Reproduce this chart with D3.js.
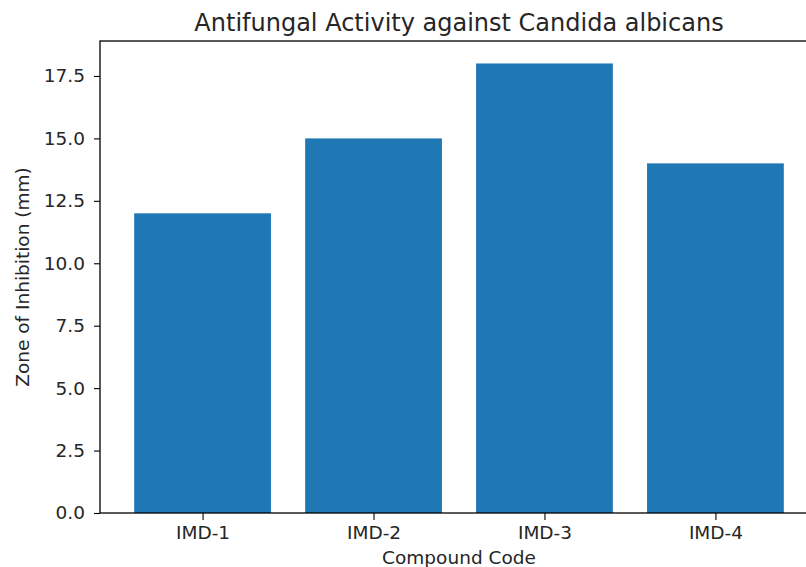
<!DOCTYPE html>
<html><head><meta charset="utf-8">
<script src="https://cdn.jsdelivr.net/npm/d3@7"></script>
<style>body{margin:0;background:#fff}svg{display:block}text{font-family:"DejaVu Sans",sans-serif;fill:#262626}</style>
</head><body><svg id="c" width="806" height="567"></svg>
<script>
const categories = ["IMD-1","IMD-2","IMD-3","IMD-4"];
const values = [12, 15, 18, 14];
const yTicks = [0, 2.5, 5, 7.5, 10, 12.5, 15, 17.5];
const title = "Antifungal Activity against Candida albicans";
const xLabel = "Compound Code";
const yLabel = "Zone of Inhibition (mm)";

const svg = d3.select("#c");
const L = 100, R = 818, T = 41, B = 513;
const x = d3.scaleLinear().domain([-0.6, 3.6]).range([L, R]);
const y = d3.scaleLinear().domain([0, 18.9]).range([B, T]);

svg.append("g").selectAll("rect").data(values).join("rect")
  .attr("x", (d,i) => x(i - 0.4)).attr("width", (d,i) => x(i + 0.4) - x(i - 0.4))
  .attr("y", d => y(d)).attr("height", d => y(0) - y(d))
  .attr("fill", "#1f77b4");

const fs = 18.5;
const xa = svg.append("g").attr("transform", `translate(0,${B})`)
  .call(d3.axisBottom(x).tickValues(d3.range(categories.length)).tickFormat(i => categories[i]).tickSize(7).tickPadding(6));
const ya = svg.append("g").attr("transform", `translate(${L},0)`)
  .call(d3.axisLeft(y).tickValues(yTicks).tickFormat(d3.format(".1f")).tickSize(6).tickPadding(9));
[xa, ya].forEach(a => {
  a.select(".domain").remove();
  a.selectAll(".tick line").attr("stroke", "#000").attr("stroke-width", 1.1);
  a.selectAll(".tick text").attr("font-size", fs).attr("font-family", "DejaVu Sans").attr("fill", "#262626");
});

svg.append("rect").attr("x", L).attr("y", T).attr("width", R - L).attr("height", B - T)
  .attr("fill", "none").attr("stroke", "#000").attr("stroke-width", 1.3);

svg.append("text").attr("x", (L + R) / 2).attr("y", 31).attr("text-anchor", "middle")
  .attr("font-size", 24).text(title);
svg.append("text").attr("x", (L + R) / 2).attr("y", 564).attr("text-anchor", "middle")
  .attr("font-size", fs).text(xLabel);
svg.append("text").attr("transform", `translate(29,${(T + B) / 2}) rotate(-90)`).attr("text-anchor", "middle")
  .attr("font-size", fs).text(yLabel);
</script></body></html>
